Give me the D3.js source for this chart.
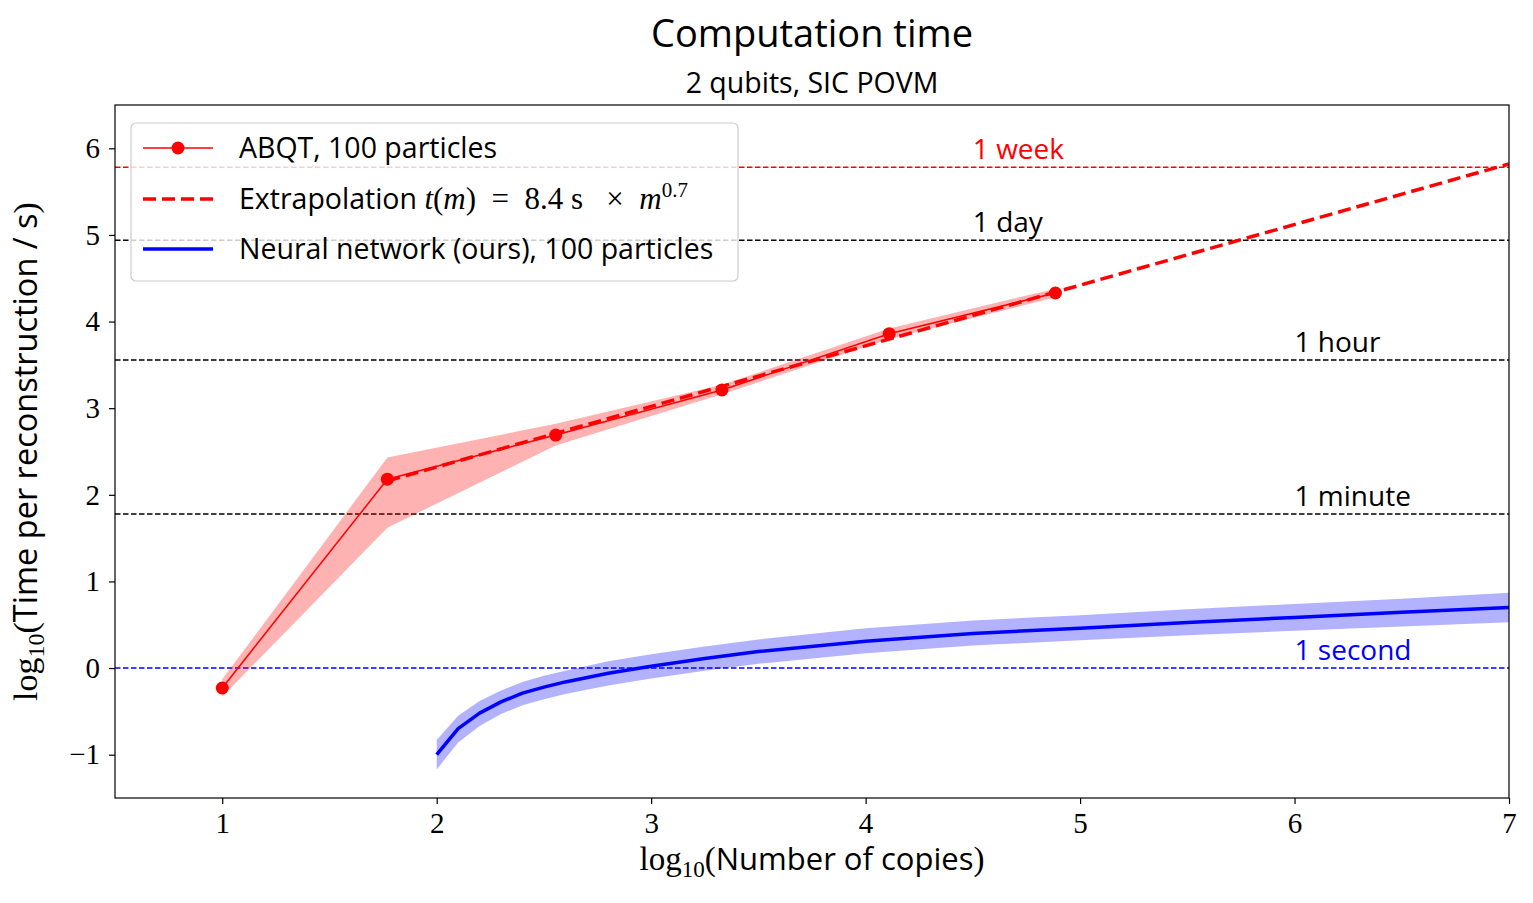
<!DOCTYPE html>
<html>
<head>
<meta charset="utf-8">
<style>
  body { margin: 0; background: white; }
  .sans { font-family: "Open Sans", "Lato", sans-serif; }
  .serif { font-family: "Liberation Serif", "DejaVu Serif", serif; }
</style>
</head>
<body>
<div id="chart"></div>
<script src="https://cdn.jsdelivr.net/npm/d3@7"></script>
<script>
// ABQT measurements (log10 copies, log10 seconds)
const abqtX = [1.0, 1.77, 2.555, 3.33, 4.11, 4.885];
const abqtY = [-0.23, 2.18, 2.69, 3.21, 3.86, 4.33];
const abqtLo = [-0.33, 1.62, 2.57, 3.16, 3.80, 4.28];
const abqtHi = [-0.13, 2.43, 2.82, 3.27, 3.92, 4.38];

// extrapolation t(m) = 8.4 s * m^0.7, endpoints
const extX = [1.77, 7.0];
const extY = [2.16, 5.82];

// neural network
const nnX = [2.0, 2.1, 2.2, 2.3, 2.4, 2.5, 2.6, 2.8, 3.0, 3.25, 3.5, 4.0, 4.5, 5.0, 5.5, 6.0, 6.5, 7.0];
const nnY = [-1.0, -0.70, -0.52, -0.39, -0.29, -0.22, -0.16, -0.06, 0.02, 0.11, 0.19, 0.31, 0.40, 0.46, 0.525, 0.585, 0.645, 0.70];
const nnLo = [-1.17, -0.86, -0.67, -0.53, -0.43, -0.36, -0.30, -0.20, -0.12, -0.03, 0.05, 0.17, 0.26, 0.32, 0.38, 0.43, 0.48, 0.53];
const nnHi = [-0.83, -0.55, -0.38, -0.26, -0.16, -0.09, -0.03, 0.08, 0.16, 0.25, 0.33, 0.46, 0.55, 0.61, 0.68, 0.74, 0.80, 0.87];

// reference times
const refNames = ["1 week", "1 day", "1 hour", "1 minute", "1 second"];
const refY = [5.78, 4.94, 3.556, 1.778, 0];
const refLabelX = [4.5, 4.5, 6.0, 6.0, 6.0];
const refColors = ["red", "black", "black", "black", "blue"];

const xTicks = [1, 2, 3, 4, 5, 6, 7];
const yTicks = [-1, 0, 1, 2, 3, 4, 5, 6];

const width = 1533, height = 903;
const margin = {top: 105, right: 24, bottom: 105, left: 115};

const x = d3.scaleLinear().domain([0.5, 7]).range([margin.left, width - margin.right]);
const y = d3.scaleLinear().domain([-1.5, 6.5]).range([height - margin.bottom, margin.top]);

const svg = d3.select("#chart").append("svg")
    .attr("width", width).attr("height", height);

svg.append("defs").append("clipPath").attr("id", "clip")
  .append("rect")
    .attr("x", x(0.5)).attr("y", y(6.5))
    .attr("width", x(7) - x(0.5)).attr("height", y(-1.5) - y(6.5));

const plot = svg.append("g").attr("clip-path", "url(#clip)");

// reference lines
refY.forEach((v, i) => {
  plot.append("line")
      .attr("x1", x(0.5)).attr("x2", x(7))
      .attr("y1", y(v)).attr("y2", y(v))
      .attr("stroke", refColors[i])
      .attr("stroke-width", 1.5)
      .attr("stroke-dasharray", "5.5,2.5");
  svg.append("text")
      .attr("class", "sans")
      .attr("x", x(refLabelX[i])).attr("y", y(v) - 8)
      .attr("font-size", 28)
      .attr("fill", refColors[i])
      .text(refNames[i]);
});

// bands
const area = d3.area()
    .x(d => x(d[0])).y0(d => y(d[1])).y1(d => y(d[2]));
plot.append("path")
    .datum(abqtX.map((v, i) => [v, abqtLo[i], abqtHi[i]]))
    .attr("d", area)
    .attr("fill", "red").attr("fill-opacity", 0.3);
plot.append("path")
    .datum(nnX.map((v, i) => [v, nnLo[i], nnHi[i]]))
    .attr("d", area)
    .attr("fill", "blue").attr("fill-opacity", 0.3);

const line = d3.line().x(d => x(d[0])).y(d => y(d[1]));

// ABQT line + markers
plot.append("path")
    .datum(abqtX.map((v, i) => [v, abqtY[i]]))
    .attr("d", line)
    .attr("fill", "none").attr("stroke", "red").attr("stroke-width", 1.5);

// extrapolation
plot.append("path")
    .datum(extX.map((v, i) => [v, extY[i]]))
    .attr("d", line)
    .attr("fill", "none").attr("stroke", "red").attr("stroke-width", 3.5)
    .attr("stroke-dasharray", "13,6");

plot.selectAll("circle.abqt")
  .data(abqtX.map((v, i) => [v, abqtY[i]]))
  .join("circle")
    .attr("class", "abqt")
    .attr("cx", d => x(d[0])).attr("cy", d => y(d[1]))
    .attr("r", 6.5).attr("fill", "red");

// neural network
plot.append("path")
    .datum(nnX.map((v, i) => [v, nnY[i]]))
    .attr("d", line)
    .attr("fill", "none").attr("stroke", "blue").attr("stroke-width", 3.5)
    .attr("stroke-linejoin", "round");

// axes
const xAxis = svg.append("g")
    .attr("transform", `translate(0,${y(-1.5)})`)
    .call(d3.axisBottom(x).tickValues(xTicks).tickSize(6).tickPadding(8).tickFormat(d3.format("d")));
const yAxis = svg.append("g")
    .attr("transform", `translate(${x(0.5)},0)`)
    .call(d3.axisLeft(y).tickValues(yTicks).tickSize(6).tickPadding(9)
      .tickFormat(d => d < 0 ? "\u2212" + Math.abs(d) : d));
[xAxis, yAxis].forEach(g => {
  g.select(".domain").remove();
  g.selectAll("text").attr("class", "serif").attr("font-size", 29).attr("fill", "black");
  g.selectAll("line").attr("stroke-width", 1.2);
});

svg.append("rect")
    .attr("x", x(0.5)).attr("y", y(6.5))
    .attr("width", x(7) - x(0.5)).attr("height", y(-1.5) - y(6.5))
    .attr("fill", "none").attr("stroke", "black").attr("stroke-width", 1.2);

// titles
svg.append("text").attr("class", "sans")
    .attr("x", (x(0.5) + x(7)) / 2).attr("y", 47)
    .attr("text-anchor", "middle").attr("font-size", 38)
    .text("Computation time");
svg.append("text").attr("class", "sans")
    .attr("x", (x(0.5) + x(7)) / 2).attr("y", 93)
    .attr("text-anchor", "middle").attr("font-size", 28.5)
    .text("2 qubits, SIC POVM");

// x label
const xl = svg.append("text")
    .attr("x", (x(0.5) + x(7)) / 2).attr("y", 870)
    .attr("text-anchor", "middle").attr("font-size", 31);
xl.append("tspan").attr("class", "serif").attr("font-size", 33).text("log");
xl.append("tspan").attr("class", "serif").attr("font-size", 23).attr("dy", 7).text("10");
xl.append("tspan").attr("class", "serif").attr("font-size", 33).attr("dy", -7).text("(");
xl.append("tspan").attr("class", "sans").text("Number of copies");
xl.append("tspan").attr("class", "serif").attr("font-size", 33).text(")");

// y label
const yl = svg.append("text")
    .attr("transform", `translate(37,${(y(-1.5) + y(6.5)) / 2}) rotate(-90)`)
    .attr("text-anchor", "middle").attr("font-size", 32.5);
yl.append("tspan").attr("class", "serif").attr("font-size", 34).text("log");
yl.append("tspan").attr("class", "serif").attr("font-size", 24).attr("dy", 7).text("10");
yl.append("tspan").attr("class", "serif").attr("font-size", 34).attr("dy", -7).text("(");
yl.append("tspan").attr("class", "sans").text("Time per reconstruction / s");
yl.append("tspan").attr("class", "serif").attr("font-size", 34).text(")");

// legend
const lg = svg.append("g").attr("transform", "translate(131,123)");
lg.append("rect")
    .attr("width", 607).attr("height", 158).attr("rx", 5)
    .attr("fill", "white").attr("fill-opacity", 0.8)
    .attr("stroke", "#cccccc").attr("stroke-width", 1.2);
const rows = [25, 76, 126];
lg.append("line").attr("x1", 12).attr("x2", 82).attr("y1", rows[0]).attr("y2", rows[0])
    .attr("stroke", "red").attr("stroke-width", 1.5);
lg.append("circle").attr("cx", 47).attr("cy", rows[0]).attr("r", 6.5).attr("fill", "red");
lg.append("line").attr("x1", 12).attr("x2", 82).attr("y1", rows[1]).attr("y2", rows[1])
    .attr("stroke", "red").attr("stroke-width", 3.5).attr("stroke-dasharray", "13,6");
lg.append("line").attr("x1", 12).attr("x2", 82).attr("y1", rows[2]).attr("y2", rows[2])
    .attr("stroke", "blue").attr("stroke-width", 3.5);

lg.append("text").attr("class", "sans").attr("x", 108).attr("y", rows[0] + 10)
    .attr("font-size", 28.5).text("ABQT, 100 particles");
const ex = lg.append("text").attr("x", 108).attr("y", rows[1] + 10).attr("font-size", 28.5)
    .attr("xml:space", "preserve");
ex.append("tspan").attr("class", "sans").text("Extrapolation ");
ex.append("tspan").attr("class", "serif").attr("font-size", 31).attr("font-style", "italic").text("t");
ex.append("tspan").attr("class", "serif").attr("font-size", 31).text("(");
ex.append("tspan").attr("class", "serif").attr("font-size", 31).attr("font-style", "italic").text("m");
ex.append("tspan").attr("class", "serif").attr("font-size", 31).attr("style", "white-space:pre")
    .text(")  =  8.4 s   \u00d7  ");
ex.append("tspan").attr("class", "serif").attr("font-size", 31).attr("font-style", "italic").text("m");
ex.append("tspan").attr("class", "serif").attr("font-size", 21).attr("dy", -12).text("0.7");
lg.append("text").attr("class", "sans").attr("x", 108).attr("y", rows[2] + 10)
    .attr("font-size", 28.5).text("Neural network (ours), 100 particles");
</script>
</body>
</html>
